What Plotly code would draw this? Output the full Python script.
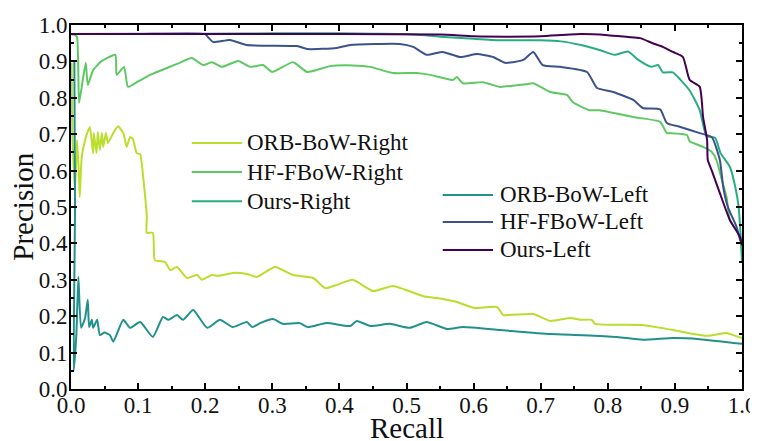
import plotly.graph_objects as go

# ---------------- data ----------------
series_names = ["ORB-BoW-Right", "HF-FBoW-Right", "Ours-Right",
                "ORB-BoW-Left", "HF-FBoW-Left", "Ours-Left"]
series_colors = ["#bade2b", "#5ec962", "#27ad81", "#21918c", "#3b528b", "#440154"]

orb_right_recall = [0.001, 0.002, 0.006, 0.009, 0.012, 0.013, 0.016, 0.021, 0.024, 0.028, 0.033, 0.034,
                    0.038, 0.040, 0.043, 0.046, 0.048, 0.052, 0.055, 0.063, 0.070, 0.078, 0.083, 0.088,
                    0.092, 0.098, 0.103, 0.108, 0.111, 0.113, 0.113, 0.122, 0.125, 0.140, 0.148, 0.158,
                    0.173, 0.188, 0.195, 0.210, 0.220, 0.241, 0.262, 0.277, 0.304, 0.331, 0.361, 0.379,
                    0.396, 0.420, 0.450, 0.480, 0.525, 0.545, 0.575, 0.600, 0.635, 0.644, 0.650, 0.689,
                    0.714, 0.744, 0.759, 0.776, 0.781, 0.852, 0.897, 0.948, 0.977, 0.987, 1.0]
orb_right_prec = [0.896, 0.700, 0.547, 0.684, 0.582, 0.527, 0.637, 0.684, 0.703, 0.720, 0.648, 0.703,
                  0.648, 0.706, 0.657, 0.703, 0.665, 0.703, 0.676, 0.703, 0.722, 0.703, 0.665, 0.692,
                  0.688, 0.648, 0.645, 0.574, 0.519, 0.473, 0.429, 0.429, 0.354, 0.349, 0.327, 0.335,
                  0.305, 0.313, 0.300, 0.313, 0.311, 0.319, 0.316, 0.308, 0.335, 0.313, 0.305, 0.277,
                  0.286, 0.300, 0.269, 0.283, 0.255, 0.250, 0.239, 0.223, 0.225, 0.203, 0.203, 0.206,
                  0.187, 0.195, 0.190, 0.190, 0.179, 0.176, 0.162, 0.146, 0.154, 0.148, 0.140]

hf_right_recall = [0.0, 0.006, 0.009, 0.012, 0.016, 0.022, 0.025, 0.033, 0.045, 0.066, 0.068, 0.079,
                   0.085, 0.100, 0.118, 0.143, 0.162, 0.180, 0.197, 0.210, 0.225, 0.249, 0.267, 0.286,
                   0.300, 0.331, 0.352, 0.386, 0.420, 0.446, 0.480, 0.515, 0.535, 0.569, 0.575, 0.584,
                   0.614, 0.639, 0.680, 0.689, 0.714, 0.739, 0.748, 0.773, 0.788, 0.838, 0.878, 0.888,
                   0.893, 0.918, 0.922, 0.927, 0.942, 0.955, 0.962, 0.970, 0.977, 0.982, 0.994, 1.0]
hf_right_prec = [0.975, 0.972, 0.967, 0.786, 0.830, 0.896, 0.835, 0.876, 0.900, 0.918, 0.863, 0.885,
                 0.830, 0.845, 0.863, 0.882, 0.896, 0.909, 0.890, 0.898, 0.885, 0.901, 0.885, 0.890,
                 0.871, 0.898, 0.871, 0.887, 0.889, 0.885, 0.868, 0.868, 0.863, 0.849, 0.857, 0.840,
                 0.843, 0.830, 0.838, 0.840, 0.816, 0.808, 0.788, 0.766, 0.766, 0.747, 0.734, 0.703,
                 0.703, 0.698, 0.680, 0.676, 0.665, 0.651, 0.629, 0.574, 0.527, 0.464, 0.429, 0.410]

ours_right_recall = [0.0, 0.1, 0.2, 0.3, 0.4, 0.45, 0.5, 0.55, 0.6, 0.64, 0.7, 0.73, 0.76, 0.79, 0.81,
                     0.83, 0.845, 0.865, 0.875, 0.882, 0.897, 0.908, 0.922, 0.937, 0.947, 0.96, 0.968,
                     0.982, 0.99, 0.995, 0.998, 1.0]
ours_right_prec = [0.975, 0.976, 0.976, 0.977, 0.977, 0.976, 0.975, 0.968, 0.962, 0.958, 0.958, 0.955,
                   0.945, 0.930, 0.918, 0.927, 0.905, 0.885, 0.890, 0.870, 0.870, 0.850, 0.820, 0.766,
                   0.695, 0.690, 0.648, 0.610, 0.555, 0.500, 0.420, 0.350]

orb_left_recall = [0.005, 0.006, 0.004, 0.008, 0.011, 0.015, 0.021, 0.025, 0.027, 0.031, 0.033, 0.039,
                   0.043, 0.050, 0.058, 0.063, 0.078, 0.088, 0.103, 0.122, 0.137, 0.145, 0.158, 0.167,
                   0.182, 0.203, 0.222, 0.241, 0.262, 0.270, 0.282, 0.301, 0.316, 0.341, 0.353, 0.381,
                   0.416, 0.426, 0.446, 0.475, 0.505, 0.530, 0.560, 0.584, 0.639, 0.714, 0.763, 0.814,
                   0.852, 0.897, 0.937, 1.0]
orb_left_prec = [0.900, 0.500, 0.050, 0.150, 0.308, 0.168, 0.195, 0.245, 0.170, 0.190, 0.168, 0.190,
                 0.148, 0.155, 0.148, 0.130, 0.190, 0.168, 0.184, 0.143, 0.198, 0.190, 0.203, 0.190,
                 0.217, 0.168, 0.190, 0.170, 0.184, 0.170, 0.181, 0.192, 0.179, 0.181, 0.170, 0.181,
                 0.173, 0.187, 0.173, 0.179, 0.168, 0.184, 0.165, 0.170, 0.162, 0.151, 0.148, 0.143,
                 0.135, 0.140, 0.137, 0.124]

hf_left_recall = [0.0, 0.1, 0.2, 0.205, 0.212, 0.237, 0.262, 0.337, 0.352, 0.396, 0.416, 0.49, 0.51,
                  0.53, 0.554, 0.58, 0.605, 0.629, 0.647, 0.674, 0.689, 0.703, 0.729, 0.769, 0.784,
                  0.808, 0.838, 0.852, 0.878, 0.888, 0.908, 0.937, 0.955, 0.967, 0.972, 0.979, 0.992,
                  0.997, 1.0]
hf_left_prec = [0.975, 0.975, 0.975, 0.965, 0.953, 0.959, 0.945, 0.942, 0.934, 0.937, 0.945, 0.948,
                0.940, 0.918, 0.926, 0.912, 0.920, 0.912, 0.896, 0.904, 0.926, 0.890, 0.885, 0.871,
                0.827, 0.816, 0.794, 0.772, 0.768, 0.731, 0.720, 0.703, 0.692, 0.629, 0.555, 0.500,
                0.445, 0.410, 0.400]

ours_left_recall = [0.0, 0.2, 0.4, 0.55, 0.6, 0.65, 0.7, 0.76, 0.8, 0.83, 0.848, 0.867, 0.882, 0.897,
                    0.912, 0.922, 0.937, 0.942, 0.948, 0.949, 0.955, 0.967, 0.982, 0.997, 1.0]
ours_left_prec = [0.975, 0.975, 0.975, 0.974, 0.969, 0.968, 0.969, 0.975, 0.972, 0.967, 0.964, 0.950,
                  0.940, 0.926, 0.912, 0.849, 0.830, 0.747, 0.684, 0.629, 0.600, 0.538, 0.464, 0.418,
                  0.395]

x_tick_vals = [0.0, 0.1, 0.2, 0.3, 0.4, 0.5, 0.6, 0.7, 0.8, 0.9, 1.0]
x_tick_text = ["0.0", "0.1", "0.2", "0.3", "0.4", "0.5", "0.6", "0.7", "0.8", "0.9", "1.0"]
y_tick_vals = [0.0, 0.1, 0.2, 0.3, 0.4, 0.5, 0.6, 0.7, 0.8, 0.9, 1.0]
y_tick_text = ["0.0", "0.1", "0.2", "0.3", "0.4", "0.5", "0.6", "0.7", "0.8", "0.9", "1.0"]
x_title = "Recall"
y_title = "Precision"

all_x = [orb_right_recall, hf_right_recall, ours_right_recall,
         orb_left_recall, hf_left_recall, ours_left_recall]
all_y = [orb_right_prec, hf_right_prec, ours_right_prec,
         orb_left_prec, hf_left_prec, ours_left_prec]

# ---------------- figure ----------------
FONT = "Liberation Serif"
TXT = "#111111"
fig = go.Figure()
for name, color, xs, ys in zip(series_names, series_colors, all_x, all_y):
    fig.add_trace(go.Scatter(x=xs, y=ys, mode="lines", name=name, showlegend=False,
                             line=dict(color=color, width=2, shape="spline", smoothing=0.5)))

# manual legends (two groups)
legend_groups = [
    dict(idx=[0, 1, 2], x0=0.180, x1=0.255, tx=0.259, ys=[0.676, 0.596, 0.516]),
    dict(idx=[3, 4, 5], x0=0.554, x1=0.629, tx=0.636, ys=[0.533, 0.459, 0.382]),
]
for g in legend_groups:
    for i, yy in zip(g["idx"], g["ys"]):
        fig.add_shape(type="line", xref="paper", yref="paper", x0=g["x0"], x1=g["x1"],
                      y0=yy, y1=yy, line=dict(color=series_colors[i], width=2))
        fig.add_annotation(xref="paper", yref="paper", x=g["tx"], y=yy, text=series_names[i],
                           showarrow=False, xanchor="left", yanchor="middle",
                           font=dict(family=FONT, size=23, color=TXT))

# axis titles
fig.add_annotation(xref="paper", yref="paper", x=0.5, y=-0.108, text=x_title, showarrow=False,
                   xanchor="center", yanchor="middle", font=dict(family=FONT, size=29, color=TXT))
fig.add_annotation(xref="paper", yref="paper", x=-0.072, y=0.5, text=y_title, showarrow=False,
                   textangle=-90, xanchor="center", yanchor="middle",
                   font=dict(family=FONT, size=29, color=TXT))

tick_font = dict(family=FONT, size=23, color=TXT)
minor_ticks = dict(dtick=0.05, ticks="inside", ticklen=3, tickwidth=1.5, tickcolor="black", showgrid=False)

xaxis_cfg = dict(range=[0, 1], showline=True, linecolor="black", linewidth=2, mirror="allticks",
                 ticks="inside", ticklen=6, tickwidth=1.5, tickcolor="black",
                 showgrid=False, zeroline=False, automargin=False,
                 tickmode="array", tickvals=x_tick_vals, ticktext=x_tick_text,
                 tickfont=tick_font, ticklabelstandoff=-6, minor=minor_ticks)
yaxis_cfg = dict(range=[0, 1], showline=True, linecolor="black", linewidth=2, mirror="allticks",
                 ticks="inside", ticklen=6, tickwidth=1.5, tickcolor="black",
                 showgrid=False, zeroline=False, automargin=False,
                 tickmode="array", tickvals=y_tick_vals, ticktext=y_tick_text,
                 tickfont=tick_font, ticklabelstandoff=-3, minor=minor_ticks)

# page body has an 8px margin, so the figure is sized/offset to compensate
fig.update_layout(width=750, height=433, margin=dict(l=63, r=16, t=17, b=52),
                  font=dict(family=FONT, size=23, color=TXT),
                  xaxis=xaxis_cfg, yaxis=yaxis_cfg,
                  paper_bgcolor="white", plot_bgcolor="white", showlegend=False)

fig.write_html("out.html")
